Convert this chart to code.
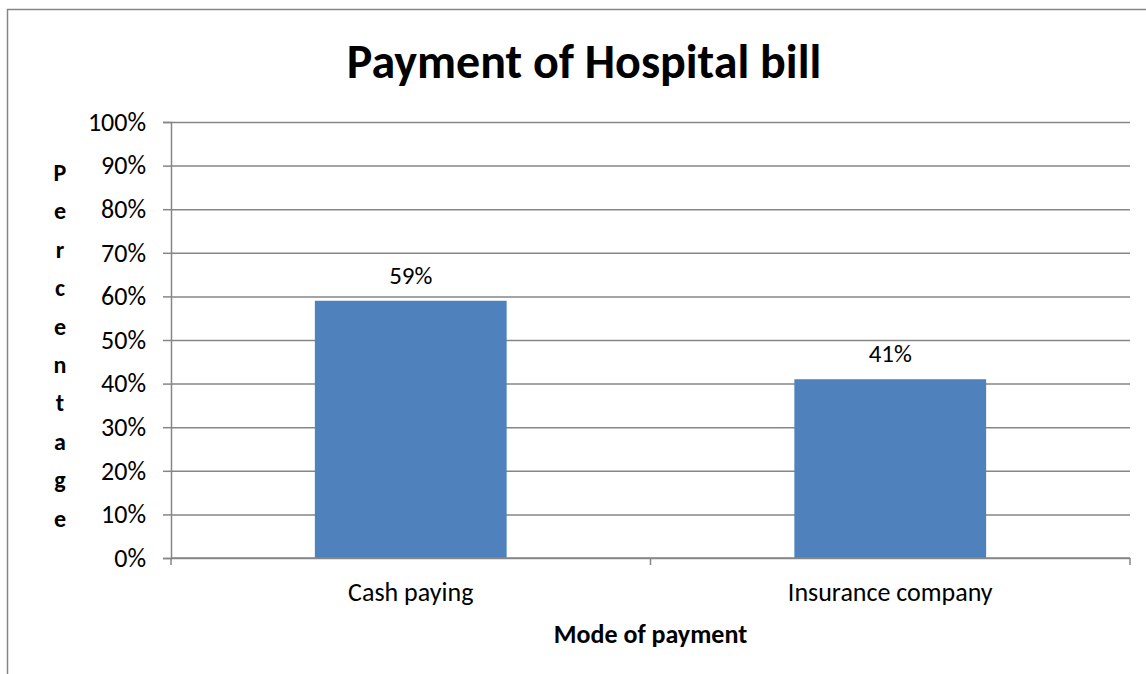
<!DOCTYPE html>
<html>
<head>
<meta charset="utf-8">
<script src="https://cdn.jsdelivr.net/npm/d3@7"></script>
<style>
  body { margin: 0; background: #fff; }
  svg { display: block; font-family: Calibri, Carlito, Lato, 'Open Sans', sans-serif; }
</style>
</head>
<body>
<div id="chart-container"></div>
<script>
const categories = ['Cash paying', 'Insurance company'];
const values = [0.59, 0.41];
const yTicks = [0, 0.1, 0.2, 0.3, 0.4, 0.5, 0.6, 0.7, 0.8, 0.9, 1];
const title = 'Payment of Hospital bill';
const xTitle = 'Mode of payment';
const yTitle = 'Percentage';

// chart dimensions
const svgWidth = 1146;
const svgHeight = 674;
const marginTop = 122;
const marginRight = 16;
const marginBottom = 116;
const marginLeft = 171;

const svg = d3
  .create('svg')
  .attr('width', svgWidth)
  .attr('height', svgHeight)
  .attr('viewBox', [0, 0, svgWidth, svgHeight]);

// outer chart border (runs off the right and bottom)
svg
  .append('rect')
  .attr('x', 7.5)
  .attr('y', 9.5)
  .attr('width', svgWidth + 20)
  .attr('height', svgHeight + 20)
  .attr('fill', 'none')
  .attr('stroke', '#868686')
  .attr('stroke-width', 1.5);

const xScale = d3
  .scaleBand()
  .domain(categories)
  .range([marginLeft, svgWidth - marginRight])
  .paddingInner(0.6)
  .paddingOuter(0.3);

const yScale = d3
  .scaleLinear()
  .domain([0, 1])
  .range([svgHeight - marginBottom, marginTop]);

// gridlines + y axis
svg
  .append('g')
  .attr('transform', `translate(${marginLeft},0)`)
  .call(
    d3
      .axisLeft(yScale)
      .tickValues(yTicks)
      .tickFormat(d3.format('.0%'))
      .tickSize(8)
      .tickPadding(17)
  )
  .call((g) => g.select('.domain').attr('stroke', '#868686').attr('stroke-width', 1.5))
  .call((g) => g.selectAll('.tick line').attr('stroke', '#868686').attr('stroke-width', 1.5))
  .call((g) =>
    g
      .selectAll('.tick text')
      .attr('font-size', 26)
      .attr('fill', '#000')
      .attr('font-family', 'Calibri, Carlito, Lato, sans-serif')
  )
  .call((g) =>
    g
      .selectAll('.tick')
      .append('line')
      .attr('x1', 0)
      .attr('x2', svgWidth - marginRight - marginLeft)
      .attr('stroke', '#868686')
      .attr('stroke-width', 1.5)
  );

// bars
svg
  .append('g')
  .attr('fill', '#4F81BD')
  .selectAll()
  .data(values)
  .join('rect')
  .attr('x', (d, i) => xScale(categories[i]))
  .attr('width', xScale.bandwidth())
  .attr('y', (d) => yScale(d))
  .attr('height', (d) => yScale(0) - yScale(d));

// value labels
svg
  .append('g')
  .selectAll('text')
  .data(values)
  .join('text')
  .attr('x', (d, i) => xScale(categories[i]) + xScale.bandwidth() / 2)
  .attr('y', (d) => yScale(d) - 17)
  .attr('text-anchor', 'middle')
  .attr('font-size', 25)
  .text((d) => d3.format('.0%')(d));

// x axis
const step = (svgWidth - marginRight - marginLeft) / categories.length;
svg
  .append('g')
  .attr('transform', `translate(0,${yScale(0)})`)
  .call((g) =>
    g
      .append('line')
      .attr('x1', marginLeft)
      .attr('x2', svgWidth - marginRight)
      .attr('stroke', '#868686')
      .attr('stroke-width', 1.5)
  )
  .call((g) =>
    g
      .selectAll('.sep')
      .data(d3.range(categories.length + 1))
      .join('line')
      .attr('x1', (i) => marginLeft + i * step)
      .attr('x2', (i) => marginLeft + i * step)
      .attr('y1', 0)
      .attr('y2', 7)
      .attr('stroke', '#868686')
      .attr('stroke-width', 1.5)
  )
  .call((g) =>
    g
      .selectAll('.lbl')
      .data(categories)
      .join('text')
      .attr('x', (d) => xScale(d) + xScale.bandwidth() / 2)
      .attr('y', 43)
      .attr('text-anchor', 'middle')
      .attr('font-size', 26)
      .text((d) => d)
  );

// title
svg
  .append('text')
  .attr('x', 584)
  .attr('y', 78)
  .attr('text-anchor', 'middle')
  .attr('font-size', 48)
  .attr('font-weight', 'bold')
  .text(title);

// x axis title
svg
  .append('text')
  .attr('x', marginLeft + (svgWidth - marginRight - marginLeft) / 2)
  .attr('y', 643)
  .attr('text-anchor', 'middle')
  .attr('font-size', 26)
  .attr('font-weight', 'bold')
  .text(xTitle);

// y axis title, one letter per line
svg
  .append('g')
  .selectAll('text')
  .data(yTitle.split(''))
  .join('text')
  .attr('x', 60)
  .attr('y', (d, i) => 181 + i * 38.4)
  .attr('text-anchor', 'middle')
  .attr('font-size', 24)
  .attr('font-weight', 'bold')
  .text((d) => d);

document.querySelector('#chart-container').append(svg.node());
</script>
</body>
</html>
